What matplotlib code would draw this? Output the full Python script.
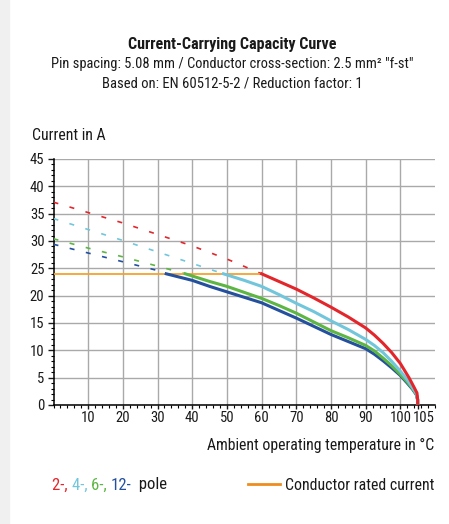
import numpy as np
import matplotlib
matplotlib.use("Agg")
import matplotlib.pyplot as plt
import matplotlib.transforms as mtransforms
from matplotlib import font_manager
from matplotlib.patches import Rectangle

# pick a narrow sans if one is installed
installed = {f.name for f in font_manager.fontManager.ttflist}
narrow = [n for n in ['Roboto Condensed', 'Liberation Sans Narrow', 'Open Sans Condensed',
                      'Roboto'] if n in installed]
plt.rcParams['font.family'] = narrow + ['DejaVu Sans']

# curve data (temperature in °C, current in A)
red_dash_t = [0, 10, 20, 30, 40, 50, 60]
red_dash_i = [37.1, 35.2, 33.3, 31.2, 29.1, 26.7, 24.0]
red_t = [60, 65, 70, 75, 80, 85, 90, 92.5, 95, 97.5, 100, 102.5, 104, 104.8, 105, 105]
red_i = [24.0, 22.6, 21.2, 19.6, 17.9, 16.1, 14.1, 12.8, 11.3, 9.6, 7.6, 5.0, 3.2, 2.2, 1.0, 0]

cyan_dash_t = [0, 10, 20, 30, 40, 49]
cyan_dash_i = [34.1, 32.1, 30.1, 28.0, 25.9, 24.0]
cyan_t = [49, 55, 60, 65, 70, 75, 80, 85, 90, 92.5, 95, 97.5, 100, 102, 103.5, 104.6, 105, 105]
cyan_i = [24.0, 22.8, 21.7, 20.2, 18.6, 17.1, 15.4, 13.8, 12.0, 10.9, 9.6, 8.0, 6.2, 4.6, 3.2, 2.1, 1.0, 0]

green_dash_t = [0, 10, 20, 30, 38]
green_dash_i = [30.4, 28.7, 27.1, 25.4, 24.0]
green_t = [38, 45, 50, 55, 60, 65, 70, 75, 80, 85, 90, 92.5, 95, 97.5, 100, 102, 103.5, 104.6, 105, 105]
green_i = [24.0, 22.6, 21.7, 20.6, 19.5, 18.2, 16.8, 15.2, 13.6, 12.3, 10.9, 9.9, 8.6, 7.2, 5.6, 4.2, 3.0, 2.0, 1.0, 0]

blue_dash_t = [0, 10, 20, 30, 32.5]
blue_dash_i = [29.4, 27.8, 26.2, 24.6, 24.0]
blue_t = [32.5, 40, 45, 50, 55, 60, 65, 70, 75, 80, 85, 90, 92.5, 95, 97.5, 100, 102, 103.5, 104.6, 105, 105]
blue_i = [24.0, 22.8, 21.7, 20.7, 19.7, 18.7, 17.3, 15.9, 14.4, 12.9, 11.6, 10.3, 9.3, 8.1, 6.8, 5.4, 4.0, 2.9, 1.9, 0.9, 0]

rated_t = [0, 60]
rated_i = [24.0, 24.0]

x_ticks = [10, 20, 30, 40, 50, 60, 70, 80, 90, 100, 105]
y_ticks = [0, 5, 10, 15, 20, 25, 30, 35, 40, 45]

RED = '#e3262b'
CYAN = '#72c6dc'
GREEN = '#5db544'
BLUE = '#24509e'
ORANGE = '#f5a12e'
INK = '#1a1a1a'

W, H = 449, 524
fig = plt.figure(figsize=(W / 100, H / 100), dpi=100)
fig.patches.append(Rectangle((0, 0), 9 / W, 1, transform=fig.transFigure,
                             color='#f0f0f0', zorder=0))
renderer = fig.canvas.get_renderer()


def put(x, y, s, width, ha='left', size=11.5, **kw):
    # place text in pixel coords and fit it to the width seen in the reference
    t = fig.text(x / W, 1 - y / H, s, ha=ha, va='center', fontsize=size, **kw)
    w = t.get_window_extent(renderer).width
    t.set_fontsize(min(size * width / w, 12.5))
    return t


ax = fig.add_axes([53.5 / W, 1 - 405 / H, 381.5 / W, 246 / H])

# dashed extrapolation
dash = (3.0, 7.0)
ax.plot(red_dash_t, red_dash_i, color=RED, lw=1.2, dashes=dash, zorder=3)
ax.plot(cyan_dash_t, cyan_dash_i, color=CYAN, lw=1.2, dashes=dash, zorder=3)
ax.plot(green_dash_t, green_dash_i, color=GREEN, lw=1.2, dashes=dash, zorder=3)
ax.plot(blue_dash_t, blue_dash_i, color=BLUE, lw=1.2, dashes=dash, zorder=3)

# conductor rated current
ax.plot(rated_t, rated_i, color=ORANGE, lw=1.3, zorder=4)

# solid curves
for tt, ii, col, z in [(blue_t, blue_i, BLUE, 5), (green_t, green_i, GREEN, 6),
                       (cyan_t, cyan_i, CYAN, 7), (red_t, red_i, RED, 8)]:
    ax.plot(tt, ii, color=col, lw=2.2, zorder=z, solid_joinstyle='round')

ax.set_xlim(0, 110)
ax.set_ylim(0, 45)
ax.set_xticks(x_ticks)
ax.set_xticklabels([str(t) for t in x_ticks])
ax.set_yticks(y_ticks)
ax.set_xticks(np.arange(0, 111, 2), minor=True)
ax.set_yticks(np.arange(0, 46, 1), minor=True)

ax.grid(True, which='major', color='#a9a9a9', lw=1.0, zorder=1)
ax.get_xgridlines()[-1].set_visible(False)
ax.set_axisbelow(True)

for s in ['top', 'right']:
    ax.spines[s].set_visible(False)
for s in ['left', 'bottom']:
    ax.spines[s].set_linewidth(1.1)

ax.tick_params(which='major', length=4, width=1.0, labelsize=10.5, pad=2.5, colors=INK)
ax.tick_params(axis='x', which='major', length=3, pad=1)
ax.tick_params(which='minor', length=2, width=0.8)

# the 105 label sits a little right of its tick in the reference
lab = ax.get_xticklabels()[-1]
lab.set_transform(lab.get_transform() + mtransforms.ScaledTranslation(0.06, 0, fig.dpi_scale_trans))

# titles
put(232, 44, 'Current-Carrying Capacity Curve', 209, ha='center', fontweight='bold', color=INK)
put(232, 64, 'Pin spacing: 5.08 mm / Conductor cross-section: 2.5 mm² "f-st"', 361,
    ha='center', color=INK)
put(232, 84, 'Based on: EN 60512-5-2 / Reduction factor: 1', 260, ha='center', color=INK)

put(32, 135, 'Current in A', 74, color=INK)
put(434, 445, 'Ambient operating temperature in °C', 227, ha='right', color=INK)

# legend
parts = [('2-, ', RED), ('4-, ', CYAN), ('6-, ', GREEN), ('12-', BLUE), ('  pole', INK)]
whole = put(52, 485, '2-, 4-, 6-, 12-  pole', 115, color=INK)
leg_size = whole.get_fontsize()
whole.remove()
x = 52
for txt, col in parts:
    t = fig.text(x / W, 1 - 485 / H, txt, ha='left', va='center', fontsize=leg_size, color=col)
    x = t.get_window_extent(renderer).x1

fig.add_artist(plt.Line2D([248 / W, 280 / W], [1 - 484 / H, 1 - 484 / H],
                          color='#f08c1e', lw=2.0, transform=fig.transFigure))
put(285, 485, 'Conductor rated current', 149, color=INK)

fig.savefig('out.png', dpi=100)
